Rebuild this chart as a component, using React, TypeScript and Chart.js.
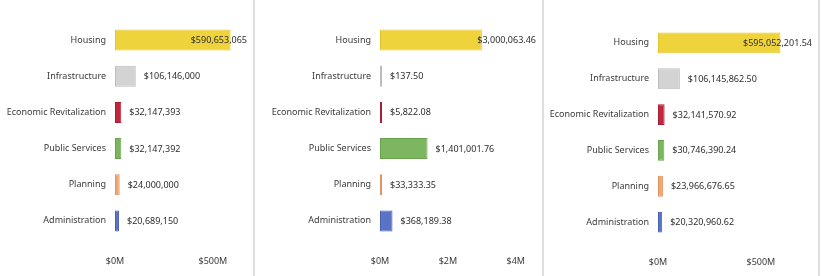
import React, { useEffect, useRef } from 'react';
import { Chart, registerables } from 'chart.js';

Chart.register(...registerables);

const categories = ['Housing', 'Infrastructure', 'Economic Revitalization', 'Public Services', 'Planning', 'Administration'];
const barColors = ['#EFD33D', '#D3D3D3', '#C1273D', '#7DB660', '#F2A673', '#5B73C6'];
const barBorders = ['#E2C52F', '#BDBDBD', '#A61F33', '#6BA250', '#E19461', '#4A61B0'];

const panel1Values = [590653065, 106146000, 32147393, 32147392, 24000000, 20689150];
const panel2Values = [3000063.46, 137.5, 5822.08, 1401001.76, 33333.35, 368189.38];
const panel3Values = [595052201.54, 106145862.5, 32141570.92, 30746390.24, 23966676.65, 20320960.62];

const panel1Ticks = [0, 500000000];
const panel2Ticks = [0, 2000000, 4000000];
const panel3Ticks = [0, 500000000];

const FONT = '"Noto Sans", "Open Sans", sans-serif';
const TEXT = '#3a3a3a';

function money(v: number, decimals: number) {
  return '$' + v.toLocaleString('en-US', { minimumFractionDigits: decimals, maximumFractionDigits: decimals });
}

type PanelProps = {
  values: number[];
  ticks: number[];
  decimals: number;
  xMax: number;
  width: number;
  left: number;
  right: number;
  top: number;
  bottom: number;
};

function Panel({ values, ticks, decimals, xMax, width, left, right, top, bottom }: PanelProps) {
  const ref = useRef<HTMLCanvasElement | null>(null);
  useEffect(() => {
    if (!ref.current) return;
    const height = 276;
    const valueLabels = {
      id: 'valueLabels',
      afterDatasetsDraw(chart: any) {
        const ctx = chart.ctx;
        const meta = chart.getDatasetMeta(0);
        ctx.save();
        ctx.font = `9px ${FONT}`;
        ctx.fillStyle = '#2e2e2e';
        ctx.textBaseline = 'middle';
        ctx.textAlign = 'left';
        meta.data.forEach((el: any, i: number) => {
          const txt = money(values[i], decimals);
          const w = ctx.measureText(txt).width;
          let x = el.x + 8;
          const limit = chart.width - 6 - w;
          if (x > limit) x = limit;
          ctx.fillText(txt, x, el.y + 0.5);
        });
        ctx.restore();
      },
    };
    const chart = new Chart(ref.current, {
      type: 'bar',
      data: {
        labels: categories,
        datasets: [
          {
            data: values,
            backgroundColor: barColors,
            borderColor: barBorders,
            borderWidth: 1,
            borderSkipped: false,
            categoryPercentage: 1,
            barPercentage: 0.58,
            minBarLength: 2,
          },
        ],
      },
      options: {
        indexAxis: 'y',
        responsive: false,
        animation: false,
        devicePixelRatio: 1,
        layout: { padding: { left: 0, right: width - right, top: top, bottom: 0 } },
        plugins: { legend: { display: false }, tooltip: { enabled: false } },
        scales: {
          x: {
            type: 'linear',
            min: 0,
            max: xMax,
            grid: { display: false, drawTicks: false },
            border: { display: false },
            afterBuildTicks(scale: any) {
              scale.ticks = ticks.map((v) => ({ value: v }));
            },
            afterFit(scale: any) {
              scale.height = height - bottom;
            },
            ticks: {
              padding: 17,
              color: TEXT,
              font: { family: FONT, size: 9 },
              maxRotation: 0,
              callback: (v: any) => '$' + Number(v) / 1000000 + 'M',
            },
          },
          y: {
            grid: { display: false, drawTicks: false },
            border: { display: false },
            afterFit(scale: any) {
              scale.width = left;
            },
            ticks: {
              padding: 9,
              color: TEXT,
              font: { family: FONT, size: 9 },
            },
          },
        },
      },
      plugins: [valueLabels],
    });
    return () => chart.destroy();
  }, []);
  return <canvas ref={ref} width={width} height={276} style={{ display: 'block' }} />;
}

export default function App() {
  const divider: React.CSSProperties = { width: 2, height: 276, background: '#dedede', flex: 'none' };
  return (
    <div style={{ position: 'fixed', left: 0, top: 0, width: 822, height: 276, background: '#fff', display: 'flex' }}>
      <div style={{ width: 253, flex: 'none' }}>
        <Panel values={panel1Values} ticks={panel1Ticks} decimals={0} xMax={700000000} width={253} left={115} right={252} top={22} bottom={239} />
      </div>
      <div style={divider} />
      <div style={{ width: 287, flex: 'none' }}>
        <Panel values={panel2Values} ticks={panel2Ticks} decimals={2} xMax={4000000} width={287} left={125} right={270} top={22} bottom={239} />
      </div>
      <div style={divider} />
      <div style={{ width: 274, flex: 'none' }}>
        <Panel values={panel3Values} ticks={panel3Ticks} decimals={2} xMax={700000000} width={274} left={114} right={258} top={25} bottom={240} />
      </div>
      <div style={divider} />
    </div>
  );
}
